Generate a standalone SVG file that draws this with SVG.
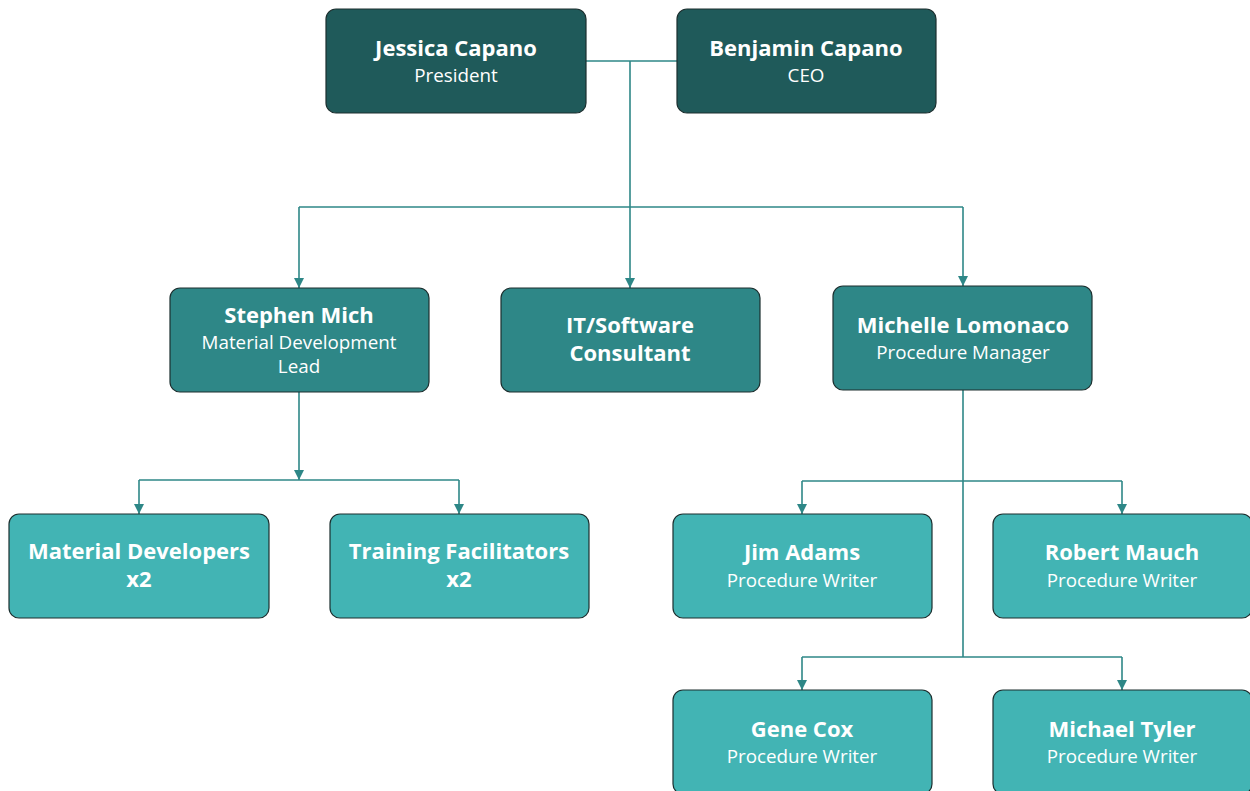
<svg xmlns="http://www.w3.org/2000/svg" width="1250" height="791" viewBox="0 0 1250 791">
<style>
.box{stroke:#1c2f2f;stroke-width:1.2}
.l1{fill:#1f5a5a}
.l2{fill:#2e8787}
.l3{fill:#42b4b4}
.n{font-family:"Open Sans","Noto Sans",sans-serif;font-weight:bold;font-size:22px;fill:#fff;text-anchor:middle}
.s{font-family:"Open Sans","Noto Sans",sans-serif;font-size:18.8px;fill:#fff;text-anchor:middle}
.c{fill:none;stroke:#2e8787;stroke-width:1.6}
</style>
<defs>
<marker id="ah" viewBox="0 0 10 10" refX="10" refY="5" markerWidth="10" markerHeight="10" markerUnits="userSpaceOnUse" orient="auto">
<path d="M0,0 L10,5 L0,10 Z" fill="#2e8787"/>
</marker>
</defs>
<g id="connectors">
<path class="c" d="M586,61 H677"/>
<path class="c" d="M630,61 V288" marker-end="url(#ah)"/>
<path class="c" d="M299,207 H963"/>
<path class="c" d="M299,207 V288" marker-end="url(#ah)"/>
<path class="c" d="M963,207 V286" marker-end="url(#ah)"/>
<path class="c" d="M299,392 V480" marker-end="url(#ah)"/>
<path class="c" d="M139,480 H459"/>
<path class="c" d="M139,480 V514" marker-end="url(#ah)"/>
<path class="c" d="M459,480 V514" marker-end="url(#ah)"/>
<path class="c" d="M963,390 V657"/>
<path class="c" d="M802,481 H1122"/>
<path class="c" d="M802,481 V514" marker-end="url(#ah)"/>
<path class="c" d="M1122,481 V514" marker-end="url(#ah)"/>
<path class="c" d="M802,657 H1122"/>
<path class="c" d="M802,657 V690" marker-end="url(#ah)"/>
<path class="c" d="M1122,657 V690" marker-end="url(#ah)"/>
</g>
<g id="jessica"><rect class="box l1" x="326" y="9" width="260" height="104" rx="10"/><text class="n" x="456" y="56">Jessica Capano</text><text class="s" x="456" y="82">President</text></g>
<g id="benjamin"><rect class="box l1" x="677" y="9" width="259" height="104" rx="10"/><text class="n" x="806" y="56">Benjamin Capano</text><text class="s" x="806" y="82">CEO</text></g>
<g id="stephen"><rect class="box l2" x="170" y="288" width="259" height="104" rx="10"/><text class="n" x="299" y="323">Stephen Mich</text><text class="s" x="299" y="349">Material Development</text><text class="s" x="299" y="373">Lead</text></g>
<g id="it"><rect class="box l2" x="501" y="288" width="259" height="104" rx="10"/><text class="n" x="630" y="333">IT/Software</text><text class="n" x="630" y="361">Consultant</text></g>
<g id="michelle"><rect class="box l2" x="833" y="286" width="259" height="104" rx="10"/><text class="n" x="963" y="333">Michelle Lomonaco</text><text class="s" x="963" y="359">Procedure Manager</text></g>
<g id="matdev"><rect class="box l3" x="9" y="514" width="260" height="104" rx="10"/><text class="n" x="139" y="559">Material Developers</text><text class="n" x="139" y="587">x2</text></g>
<g id="training"><rect class="box l3" x="330" y="514" width="259" height="104" rx="10"/><text class="n" x="459" y="559">Training Facilitators</text><text class="n" x="459" y="587">x2</text></g>
<g id="jim"><rect class="box l3" x="673" y="514" width="259" height="104" rx="10"/><text class="n" x="802" y="560">Jim Adams</text><text class="s" x="802" y="587">Procedure Writer</text></g>
<g id="robert"><rect class="box l3" x="993" y="514" width="259" height="104" rx="10"/><text class="n" x="1122" y="560">Robert Mauch</text><text class="s" x="1122" y="587">Procedure Writer</text></g>
<g id="gene"><rect class="box l3" x="673" y="690" width="259" height="104" rx="10"/><text class="n" x="802" y="737">Gene Cox</text><text class="s" x="802" y="763">Procedure Writer</text></g>
<g id="michael"><rect class="box l3" x="993" y="690" width="259" height="104" rx="10"/><text class="n" x="1122" y="737">Michael Tyler</text><text class="s" x="1122" y="763">Procedure Writer</text></g>
</svg>
